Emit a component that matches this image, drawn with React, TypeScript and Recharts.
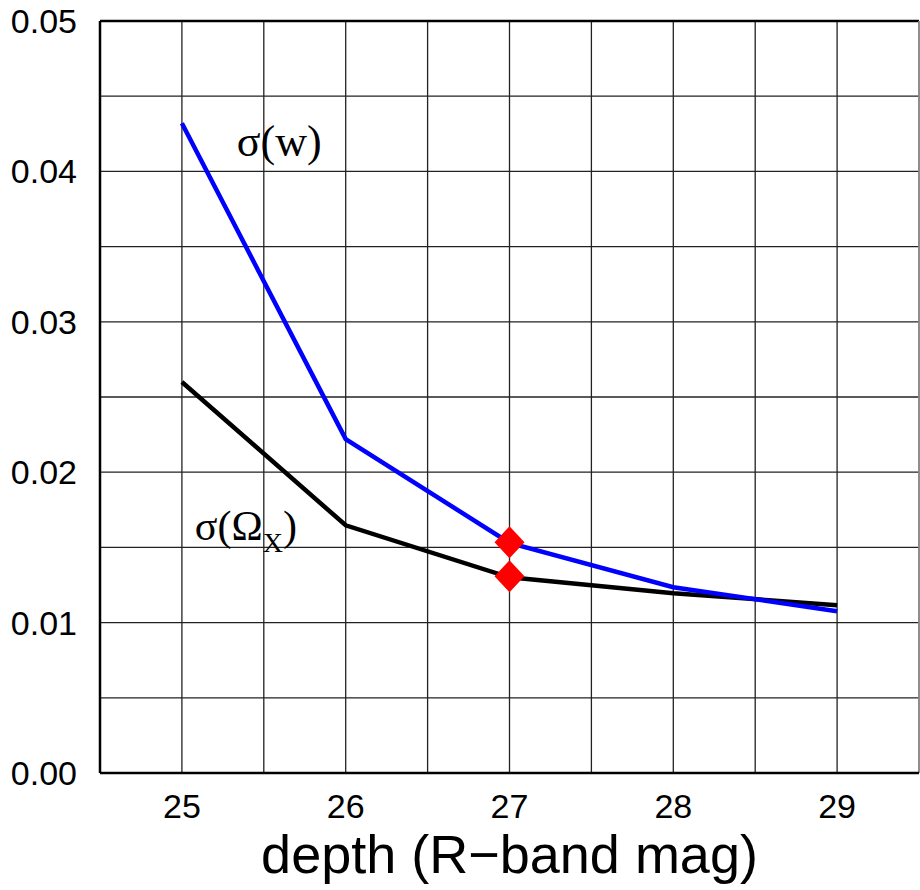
import React from 'react';
import {
  ComposedChart, Line, Scatter, XAxis, YAxis, CartesianGrid,
  ReferenceLine, ReferenceDot, Label,
} from 'recharts';

// depth (R-band limiting magnitude)
const depths = [25, 26, 27, 28, 29];
const sigmaW = [0.0432, 0.0222, 0.0153, 0.01235, 0.01076];
const sigmaOmega = [0.0260, 0.01647, 0.01301, 0.01195, 0.01116];

// highlighted fiducial survey at depth 27
const markDepth = [27, 27];
const markValue = [0.01534, 0.01308];

const xTicks = [25, 26, 27, 28, 29];
const yTicks = [0, 0.01, 0.02, 0.03, 0.04, 0.05];
const gridX = [25, 25.5, 26, 26.5, 27, 27.5, 28, 28.5, 29, 29.5];
const gridY = [0.005, 0.01, 0.015, 0.02, 0.025, 0.03, 0.035, 0.04, 0.045];

const rows = depths.map((d, i) => ({ depth: d, w: sigmaW[i], om: sigmaOmega[i] }));
const marks = markDepth.map((d, i) => ({ depth: d, v: markValue[i] }));

const tickStyle = { fontFamily: 'Liberation Sans, Arial, sans-serif', fontSize: 34, fill: '#000' };
const serif = 'Liberation Serif, Times New Roman, serif';

const Diamond = (p: any) => {
  const { cx, cy } = p;
  if (cx == null || cy == null) return null;
  return <polygon points={`${cx},${cy - 16} ${cx + 15},${cy} ${cx},${cy + 16} ${cx - 15},${cy}`} fill="#ff0000" />;
};

export default function App() {
  return (
    <div>
      <style>{`body{margin:0}`}</style>
      <ComposedChart width={920} height={890} data={rows} margin={{ top: 21, right: 1, left: 0, bottom: 0 }}>
        <CartesianGrid horizontalValues={gridY} verticalValues={gridX} stroke="#222" strokeWidth={1.3} />
        <XAxis
          dataKey="depth" type="number" domain={[24.5, 29.5]} ticks={xTicks}
          height={117} tick={tickStyle} tickLine={false} tickSize={0} tickMargin={21}
          axisLine={{ stroke: '#000', strokeWidth: 2.5 }} allowDataOverflow
        >
          <Label value="depth (R−band mag)" position="insideBottom" offset={17}
            style={{ fontFamily: 'Liberation Sans, Arial, sans-serif', fontSize: 54, fill: '#000' }} />
        </XAxis>
        <YAxis
          type="number" domain={[0, 0.05]} ticks={yTicks} width={100}
          tick={tickStyle} tickLine={false} tickSize={0} tickMargin={23}
          tickFormatter={(v: number) => v.toFixed(2)}
          axisLine={{ stroke: '#000', strokeWidth: 2.5 }} allowDataOverflow
        />
        <ReferenceLine y={0.05} stroke="#000" strokeWidth={2.5} />
        <ReferenceLine x={29.5} stroke="#999" strokeWidth={1.5} />
        <Line dataKey="om" stroke="#000" strokeWidth={4.5} dot={false} isAnimationActive={false} />
        <Line dataKey="w" stroke="#0000ff" strokeWidth={4.5} dot={false} isAnimationActive={false} />
        <Scatter data={marks} dataKey="v" shape={Diamond} isAnimationActive={false} />
        <ReferenceDot x={25.335} y={0.04104} r={0}
          shape={(p: any) => (
            <text x={p.cx} y={p.cy} fontFamily={serif} fontSize={44} fill="#000">σ(w)</text>
          )} />
        <ReferenceDot x={25.079} y={0.01547} r={0}
          shape={(p: any) => (
            <text x={p.cx} y={p.cy} fontFamily={serif} fontSize={42} fill="#000">
              <tspan>σ(Ω</tspan>
              <tspan fontSize={28} dy={12}>X</tspan>
              <tspan dy={-12}>)</tspan>
            </text>
          )} />
      </ComposedChart>
    </div>
  );
}
